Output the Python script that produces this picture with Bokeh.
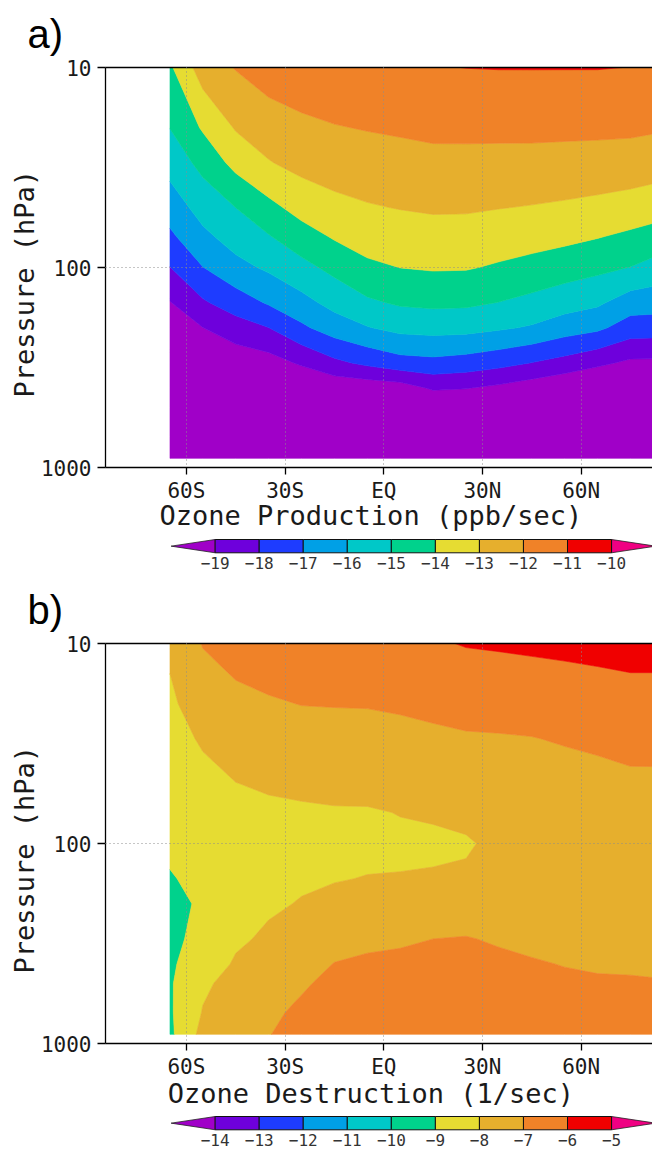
import numpy as np
from bokeh.core.properties import value
from bokeh.embed import file_html
from bokeh.layouts import column
from bokeh.models import ColumnDataSource, FixedTicker, LinearAxis, Range1d, Title
from bokeh.plotting import figure
from bokeh.plotting.contour import contour_data
from bokeh.resources import INLINE

# ---------------------------------------------------------------- data grid
LATITUDES = [-65, -55, -45, -35, -25, -15, -5, 5, 15, 25, 35, 45, 55, 65, 75, 85]
PRESSURE_LEVELS = [10, 20, 30, 50, 70, 100, 150, 200, 300, 400, 500, 700, 900]

# log10 of ozone production (ppb/sec); one row per pressure level
PRODUCTION = [
    [-14.15, -12.50, -11.95, -11.53, -11.37, -11.21, -11.11, -11.05, -11.05, -10.99, -10.97, -10.97, -10.97, -10.97, -11.01, -11.10],
    [-14.98, -13.89, -12.92, -12.48, -12.21, -12.05, -11.95, -11.87, -11.78, -11.78, -11.78, -11.76, -11.79, -11.80, -11.82, -11.92],
    [-15.63, -14.70, -13.70, -13.06, -12.70, -12.54, -12.44, -12.35, -12.27, -12.26, -12.28, -12.31, -12.33, -12.37, -12.43, -12.57],
    [-16.53, -15.61, -14.99, -14.27, -13.63, -13.26, -13.07, -12.96, -12.88, -12.89, -12.97, -13.04, -13.13, -13.25, -13.40, -13.61],
    [-17.19, -16.23, -15.58, -15.06, -14.43, -13.90, -13.58, -13.46, -13.37, -13.38, -13.51, -13.62, -13.76, -13.95, -14.19, -14.48],
    [-18.02, -17.02, -16.30, -15.84, -15.29, -14.73, -14.19, -13.99, -13.91, -13.93, -14.11, -14.31, -14.53, -14.76, -15.02, -15.46],
    [-19.05, -18.13, -17.51, -16.90, -16.32, -15.69, -15.16, -14.88, -14.80, -14.83, -15.02, -15.27, -15.58, -15.84, -16.51, -16.59],
    [-19.40, -19.01, -18.45, -18.01, -17.18, -16.51, -16.05, -15.71, -15.63, -15.68, -15.87, -16.10, -16.52, -16.80, -17.47, -17.53],
    [-19.80, -19.50, -19.63, -19.42, -18.87, -18.23, -17.79, -17.39, -17.28, -17.43, -17.69, -18.02, -18.37, -18.79, -19.19, -19.20],
    [-20.00, -19.80, -20.00, -19.80, -20.00, -19.72, -19.62, -19.47, -18.86, -18.96, -19.20, -19.53, -19.86, -20.15, -20.00, -20.00],
    [-20.20, -20.00, -20.20, -20.00, -20.30, -20.10, -20.00, -20.00, -20.00, -19.80, -19.90, -20.00, -20.20, -20.40, -20.30, -20.30],
    [-20.40, -20.30, -20.40, -20.30, -20.50, -20.40, -20.30, -20.30, -20.30, -20.10, -20.20, -20.30, -20.40, -20.60, -20.50, -20.50],
    [-20.60, -20.50, -20.60, -20.50, -20.70, -20.60, -20.50, -20.50, -20.50, -20.30, -20.40, -20.50, -20.60, -20.80, -20.70, -20.70],
]

# log10 of ozone destruction rate (1/sec); one row per pressure level
DESTRUCTION = [
    [-7.85, -6.95, -6.64, -6.47, -6.33, -6.33, -6.33, -6.28, -6.10, -5.95, -5.90, -5.84, -5.79, -5.74, -5.69, -5.69],
    [-8.15, -7.55, -7.23, -7.09, -6.98, -6.96, -6.95, -6.89, -6.80, -6.69, -6.64, -6.59, -6.51, -6.42, -6.33, -6.33],
    [-8.33, -7.90, -7.58, -7.44, -7.36, -7.33, -7.31, -7.24, -7.16, -7.09, -7.07, -7.03, -6.93, -6.82, -6.71, -6.70],
    [-8.56, -8.25, -8.01, -7.90, -7.84, -7.80, -7.77, -7.69, -7.61, -7.50, -7.50, -7.45, -7.35, -7.30, -7.18, -7.18],
    [-8.71, -8.45, -8.20, -8.15, -8.10, -8.06, -8.06, -7.98, -7.95, -7.85, -7.75, -7.65, -7.55, -7.50, -7.40, -7.40],
    [-8.86, -8.65, -8.35, -8.30, -8.20, -8.15, -8.15, -8.12, -8.08, -8.06, -7.87, -7.75, -7.65, -7.60, -7.50, -7.50],
    [-9.05, -8.82, -8.40, -8.28, -8.12, -8.03, -7.98, -7.97, -7.96, -7.92, -7.80, -7.72, -7.62, -7.58, -7.50, -7.50],
    [-9.20, -8.90, -8.35, -8.13, -7.95, -7.85, -7.75, -7.70, -7.60, -7.60, -7.60, -7.55, -7.50, -7.48, -7.42, -7.42],
    [-9.20, -8.75, -8.15, -7.85, -7.60, -7.30, -7.20, -7.12, -7.00, -6.95, -7.10, -7.20, -7.25, -7.25, -7.22, -7.25],
    [-9.12, -8.55, -7.89, -7.55, -7.30, -6.98, -6.85, -6.80, -6.70, -6.65, -6.80, -6.93, -7.03, -7.08, -7.07, -7.10],
    [-9.10, -8.15, -7.70, -7.35, -7.10, -6.80, -6.65, -6.60, -6.55, -6.50, -6.60, -6.75, -6.85, -6.92, -6.95, -6.97],
    [-9.12, -7.95, -7.50, -7.15, -6.85, -6.55, -6.40, -6.40, -6.38, -6.35, -6.45, -6.55, -6.65, -6.70, -6.75, -6.78],
    [-9.20, -7.70, -7.35, -7.03, -6.70, -6.40, -6.30, -6.30, -6.28, -6.25, -6.35, -6.45, -6.55, -6.60, -6.65, -6.68],
]

PRODUCTION_LEVELS = [-19, -18, -17, -16, -15, -14, -13, -12, -11, -10]
DESTRUCTION_LEVELS = [-14, -13, -12, -11, -10, -9, -8, -7, -6, -5]

# below-range, nine interval colours, above-range
SHADES = ["#A000C8", "#6E00DC", "#1E3CFF", "#00A0E6", "#00C8C8", "#00D28C",
          "#E6DC32", "#E6AF2D", "#F08228", "#F00000", "#F00082"]

LAT_TICKS = [-60, -30, 0, 30, 60]
LAT_LABELS = ["60S", "30S", "EQ", "30N", "60N"]
P_TICKS = [10, 100, 1000]
P_LABELS = ["10", "100", "1000"]
P_GRID = [100]

MONO = "DejaVu Sans Mono"
INK = "#1a1a1a"
NBSP = "\u00a0"
WIDTH = 652
FRAME_H = 400
LEFT = 105


def to_pressure(obj):
    """Turn log10-pressure contour vertices back into hPa (any nesting)."""
    if isinstance(obj, np.ndarray):
        return np.power(10.0, obj)
    return [to_pressure(o) for o in obj]


def panel(tag, field, levels, xlabel, top_border, bottom_border, title_standoff):
    height = top_border + FRAME_H + bottom_border
    p = figure(width=WIDTH, height=height,
               x_range=Range1d(-84.6, 81.7), y_range=Range1d(1000, 10),
               y_axis_type="log", output_backend="svg", toolbar_location=None,
               min_border_left=LEFT, min_border_right=0,
               min_border_top=top_border, min_border_bottom=bottom_border,
               outline_line_color=None, background_fill_color="white")

    z = np.array(field, dtype=float)
    lower = float(min(np.floor(z.min()), levels[0]) - 1)
    upper = float(max(np.ceil(z.max()), levels[-1]) + 1)
    bounds = [lower] + [float(v) for v in levels] + [upper]
    cd = contour_data(np.array(LATITUDES, dtype=float),
                      np.log10(np.array(PRESSURE_LEVELS, dtype=float)),
                      z, bounds, want_fill=True, want_line=False)
    fd = cd.fill_data
    src = ColumnDataSource(dict(xs=fd.xs, ys=to_pressure(fd.ys),
                                color=SHADES[:len(fd.xs)]))
    p.multi_polygons(xs="xs", ys="ys", fill_color="color", line_color="color",
                     line_width=0.6, source=src)

    # frame top edge: a bare line, no ticks, no labels
    top = LinearAxis(ticker=FixedTicker(ticks=[]), major_tick_out=0,
                     major_tick_in=0, minor_tick_out=0, minor_tick_in=0,
                     major_label_standoff=0, axis_line_width=1.3,
                     axis_line_color="black")
    p.add_layout(top, "above")

    # panel tag in the upper left corner
    p.add_layout(Title(text=tag, align="left", offset=27 - LEFT,
                       vertical_align="top",
                       text_font="Liberation Sans", text_font_size="40px",
                       text_font_style="normal", text_color="black",
                       standoff=20), "above")

    xa = p.below[0]
    xa.ticker = FixedTicker(ticks=LAT_TICKS)
    xa.major_label_overrides = dict(zip(LAT_TICKS, LAT_LABELS))
    xa.major_tick_out = 7
    xa.major_label_standoff = 4
    xa.axis_label = xlabel + NBSP
    xa.axis_label_standoff = title_standoff

    ya = p.left[0]
    ya.ticker = FixedTicker(ticks=P_TICKS)
    ya.major_label_overrides = dict(zip(P_TICKS, P_LABELS))
    ya.major_tick_out = 8
    ya.major_label_standoff = 6
    ya.axis_label = "Pressure (hPa)" + NBSP + NBSP
    ya.axis_label_standoff = -2

    for ax in (xa, ya):
        ax.axis_line_color = "black"
        ax.axis_line_width = 1.3
        ax.major_tick_line_color = "black"
        ax.major_tick_line_width = 1.3
        ax.major_tick_in = 0
        ax.minor_tick_line_color = None
        ax.major_label_text_font = MONO
        ax.major_label_text_font_size = "21px"
        ax.major_label_text_color = INK
        ax.axis_label_text_font = MONO
        ax.axis_label_text_font_size = "27px"
        ax.axis_label_text_font_style = "normal"
        ax.axis_label_text_color = INK

    p.xgrid.ticker = FixedTicker(ticks=LAT_TICKS)
    p.ygrid.ticker = FixedTicker(ticks=P_GRID)
    for g in (p.xgrid, p.ygrid):
        g.grid_line_color = "#8c8c8c"
        g.grid_line_dash = "1 3"
        g.grid_line_width = 1
        g.level = "overlay"
    return p


def colorbar(levels, height, bar_top, label_y):
    unit_px = 52.5
    first_px = 130.7
    start = levels[0] - first_px / unit_px
    p = figure(width=WIDTH, height=height,
               x_range=Range1d(start, start + WIDTH / unit_px),
               y_range=Range1d(height, 0),
               x_axis_type=None, y_axis_type=None,
               output_backend="svg", toolbar_location=None,
               min_border=0, outline_line_color=None,
               background_fill_color="white")
    bar_bottom = bar_top + 13.3
    mid = (bar_top + bar_bottom) / 2
    lo, hi = levels[0], levels[-1]
    p.patches(xs=[[lo - 1, lo, lo], [hi, hi + 1, hi]],
              ys=[[mid, bar_top, bar_bottom], [bar_top, mid, bar_bottom]],
              fill_color=[SHADES[0], SHADES[-1]], line_color="#222222",
              line_width=0.8)
    p.quad(left=levels[:-1], right=levels[1:], top=bar_top, bottom=bar_bottom,
           fill_color=SHADES[1:-1], line_color="#111111", line_width=1)
    p.text(x=levels, y=[label_y] * len(levels),
           text=["\u2212" + str(abs(v)) for v in levels],
           text_font=value(MONO), text_font_size="16px",
           text_align="center", text_baseline="middle", text_color="#333333")
    return p


# panel a spans 0..537, its colour bar 537..577; panel b 577..1111, bar to 1149
fig_a = panel("a)", PRODUCTION, PRODUCTION_LEVELS, "Ozone Production (ppb/sec)",
              67, 70, -6)
bar_a = colorbar(PRODUCTION_LEVELS, 40, 2, 25)
fig_b = panel("b)", DESTRUCTION, DESTRUCTION_LEVELS, "Ozone Destruction (1/sec)",
              66, 68, -4)
bar_b = colorbar(DESTRUCTION_LEVELS, 38, 5, 28.5)

layout = column(fig_a, bar_a, fig_b, bar_b, spacing=0)
open("out.html", "w").write(file_html(layout, INLINE))
